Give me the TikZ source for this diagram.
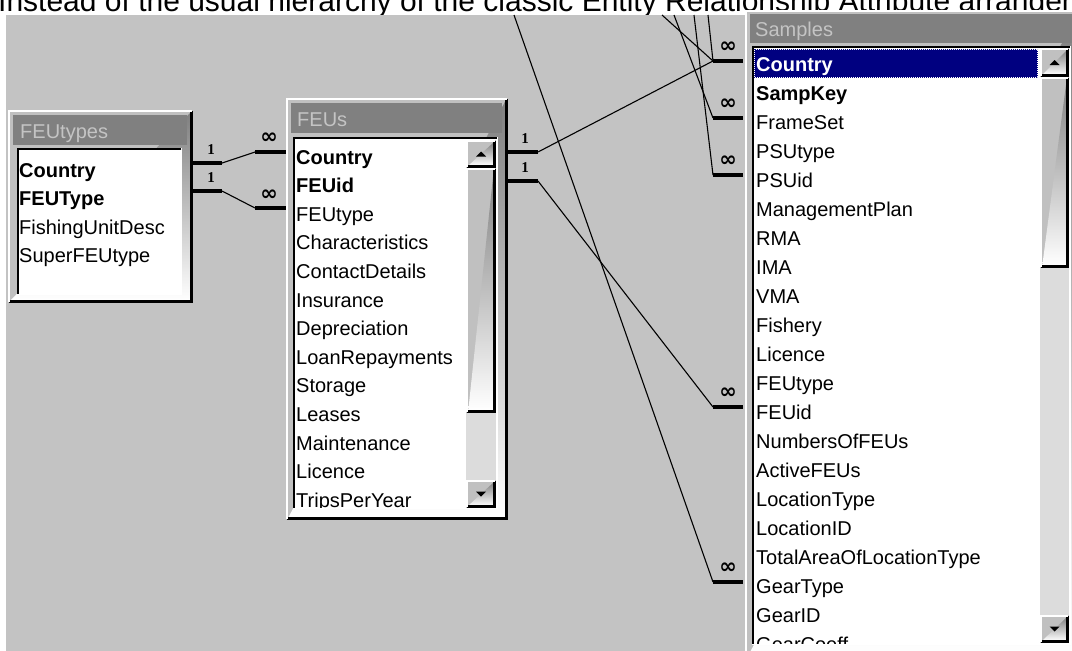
\documentclass[tikz,border=0pt]{standalone}
\usepackage{fontspec}
\setmainfont{Liberation Sans}
\newfontfamily\symfont{DejaVu Sans}
\newfontfamily\numfont{Liberation Serif}
\definecolor{desk}{HTML}{C3C3C3}
\definecolor{face}{HTML}{C0C0C0}
\definecolor{shade}{HTML}{808080}
\definecolor{titlebar}{HTML}{808080}
\definecolor{titletext}{HTML}{C4C4C4}
\definecolor{track}{HTML}{DCDCDC}
\definecolor{selnavy}{HTML}{000080}

% box node spanning (x1,y1)-(x2,y2), y grows downwards
\newcommand\boxnode[6]{\node[#1, minimum width={#5-#3}, minimum height={#6-#4}] (#2) at (#3,#4) {};}
% raised 3D edge around a named box
\newcommand\winbevel[1]{%
  \draw[white, line width=1.5pt] ([shift={(0.75,-0.75)}]#1.south west) -- ([shift={(0.75,0.75)}]#1.north west) -- ([shift={(-0.75,0.75)}]#1.north east);
  \draw[black, line width=1.5pt] ([shift={(0.75,-0.75)}]#1.south west) -- ([shift={(-0.75,-0.75)}]#1.south east) -- ([shift={(-0.75,0.75)}]#1.north east);
  \draw[shade, line width=1.5pt] ([shift={(2.25,-2.25)}]#1.south west) -- ([shift={(-2.25,-2.25)}]#1.south east) -- ([shift={(-2.25,2.25)}]#1.north east);}
% sunken 3D edge around a list area
\newcommand\listbevel[1]{%
  \draw[white, line width=1.5pt] ([shift={(0.75,-0.75)}]#1.south west) -- ([shift={(-0.75,-0.75)}]#1.south east) -- ([shift={(-0.75,0.75)}]#1.north east);
  \draw[black, line width=2pt] ([shift={(1,-1)}]#1.south west) -- ([shift={(1,1)}]#1.north west) -- ([shift={(-1,1)}]#1.north east);}
% scroll arrows
\newcommand\uparrowglyph[1]{\fill ([shift={(-5,2.5)}]#1.center) -- ([shift={(5,2.5)}]#1.center) -- ([shift={(0,-2.5)}]#1.center) -- cycle;}
\newcommand\downarrowglyph[1]{\fill ([shift={(-5,-2.5)}]#1.center) -- ([shift={(5,-2.5)}]#1.center) -- ([shift={(0,2.5)}]#1.center) -- cycle;}

\begin{document}
\begin{tikzpicture}[x=1pt,y=-1pt,
  field/.style={anchor=base west, inner sep=0pt, font=\fontsize{20}{24}\selectfont},
  keyfield/.style={field, font=\fontsize{20}{24}\selectfont\bfseries},
  wintitle/.style={anchor=base west, inner sep=0pt, text=titletext, font=\fontsize{20}{24}\selectfont},
  plate/.style={anchor=north west, inner sep=0pt, outer sep=0pt, fill=face},
  listbox/.style={anchor=north west, inner sep=0pt, outer sep=0pt, fill=white},
  titlebox/.style={anchor=north west, inner sep=0pt, outer sep=0pt, fill=titlebar},
  trackbox/.style={anchor=north west, inner sep=0pt, outer sep=0pt, fill=track},
  link/.style={line width=1.1pt},
  bar/.style={line width=4pt},
  one/.style={inner sep=0pt, font=\numfont\bfseries\fontsize{15}{15}\selectfont},
  many/.style={inner sep=0pt, font=\symfont\bfseries\fontsize{21}{21}\selectfont},
]
\useasboundingbox (0,0) rectangle (1072,651);
\clip (0,0) rectangle (1072,651);

% page background and heading line
\fill[white] (0,0) rectangle (1072,651);
\node[anchor=base west, inner sep=0pt, font=\fontsize{30}{32}\selectfont] (headline) at (-2,11.5)
  {Instead of the usual hierarchy of the classic Entity Relationship Attribute arrangement};
\fill[desk] (6,15) rectangle (1072,651);

% ---------- FEUtypes ----------
\boxnode{plate}{feutypes}{8}{110}{193}{303}
\winbevel{feutypes}
\boxnode{titlebox}{feutypes-title}{13}{115}{187}{145}
\node[wintitle] (feutypes-caption) at (20,138) {FEUtypes};
\boxnode{listbox}{feutypes-list}{17}{148}{182}{295}
\listbevel{feutypes-list}
\node[keyfield] (feutypes-0) at (19,177) {Country};
\node[keyfield] (feutypes-1) at (19,205.5) {FEUType};
\node[field] (feutypes-2) at (19,234) {FishingUnitDesc};
\node[field] (feutypes-3) at (19,262.5) {SuperFEUtype};

% ---------- FEUs ----------
\boxnode{plate}{feus}{286}{98}{508}{520}
\winbevel{feus}
\boxnode{titlebox}{feus-title}{291}{103}{502}{133}
\node[wintitle] (feus-caption) at (297,126) {FEUs};
\boxnode{listbox}{feus-list}{293}{137}{498}{509}
\begin{scope}
  \clip (295,139) rectangle (466,507);
  \node[keyfield] (feus-0) at (296,164) {Country};
  \node[keyfield] (feus-1) at (296,192.6) {FEUid};
  \foreach \fname [count=\i from 2] in {FEUtype,Characteristics,ContactDetails,Insurance,Depreciation,LoanRepayments,Storage,Leases,Maintenance,Licence,TripsPerYear}
    \node[field] (feus-\i) at (296,{164+28.6*\i}) {\fname};
\end{scope}
\boxnode{plate}{feus-up}{466}{140}{496}{168}
\winbevel{feus-up}
\uparrowglyph{feus-up}
\boxnode{plate}{feus-thumb}{466}{168}{496}{413}
\winbevel{feus-thumb}
\boxnode{trackbox}{feus-track}{466}{413}{496}{480}
\boxnode{plate}{feus-down}{466}{480}{496}{508}
\winbevel{feus-down}
\downarrowglyph{feus-down}
\listbevel{feus-list}

% ---------- Samples ----------
\boxnode{plate}{samples}{745}{10}{1080}{660}
\winbevel{samples}
\boxnode{titlebox}{samples-title}{750}{14}{1080}{43}
\node[wintitle] (samples-caption) at (755,36) {Samples};
\boxnode{listbox}{samples-list}{752}{46}{1071}{645}
\boxnode{plate}{samples-sel}{754}{49}{1038}{78}
\fill[selnavy] (samples-sel.north west) rectangle (samples-sel.south east);
\draw[white, line width=1pt, dash pattern=on 1pt off 1pt] ([shift={(0.5,0.5)}]samples-sel.north west) rectangle ([shift={(-0.5,-0.5)}]samples-sel.south east);
\begin{scope}
  \clip (754,48) rectangle (1040,643);
  \node[keyfield, text=white] (samples-0) at (756,71) {Country};
  \node[keyfield] (samples-1) at (756,100) {SampKey};
  \foreach \fname [count=\i from 2] in {FrameSet,PSUtype,PSUid,ManagementPlan,RMA,IMA,VMA,Fishery,Licence,FEUtype,FEUid,NumbersOfFEUs,ActiveFEUs,LocationType,LocationID,TotalAreaOfLocationType,GearType,GearID,GearCoeff}
    \node[field] (samples-\i) at (756,{71+29*\i}) {\fname};
\end{scope}
\boxnode{plate}{samples-up}{1040}{48}{1069}{77}
\winbevel{samples-up}
\uparrowglyph{samples-up}
\boxnode{plate}{samples-thumb}{1040}{77}{1069}{268}
\winbevel{samples-thumb}
\boxnode{trackbox}{samples-track}{1040}{268}{1069}{615}
\boxnode{plate}{samples-down}{1040}{615}{1069}{643}
\winbevel{samples-down}
\downarrowglyph{samples-down}
\listbevel{samples-list}

% ---------- relationship ends ----------
\coordinate (r1a) at (193,163); \coordinate (r1b) at (222,163);
\coordinate (r1c) at (255,152); \coordinate (r1d) at (286,152);
\coordinate (r2a) at (193,191); \coordinate (r2b) at (222,191);
\coordinate (r2c) at (255,208); \coordinate (r2d) at (286,208);
\coordinate (r3a) at (508,152); \coordinate (r3b) at (538,152);
\coordinate (r4a) at (508,181); \coordinate (r4b) at (538,181);
\coordinate (s0a) at (713,61);  \coordinate (s0b) at (743,61);
\coordinate (s1a) at (713,118); \coordinate (s1b) at (743,118);
\coordinate (s3a) at (713,175); \coordinate (s3b) at (743,175);
\coordinate (s12a) at (713,407); \coordinate (s12b) at (743,407);
\coordinate (s18a) at (713,582); \coordinate (s18b) at (743,582);
% joins coming from tables above
\coordinate (up1) at (514,15);
\coordinate (up2) at (662,15);
\coordinate (up3) at (674,15);
\coordinate (up4) at (694,15);
\coordinate (up5) at (708,15);

% connectors
\draw[link] (r1b) -- (r1c);
\draw[link] (r2b) -- (r2c);
\draw[link] (r3b) -- (s0a);
\draw[link] (r4b) -- (s12a);
\draw[link] (up1) -- (s18a);
\draw[link] (up2) -- (s0a);
\draw[link] (up3) -- (s1a);
\draw[link] (up4) -- (s3a);
\draw[link] (up5) -- (s0a);

% join bars
\foreach \p/\q in {r1a/r1b,r1c/r1d,r2a/r2b,r2c/r2d,r3a/r3b,r4a/r4b,s0a/s0b,s1a/s1b,s3a/s3b,s12a/s12b,s18a/s18b}
  \draw[bar] (\p) -- (\q);

% cardinality marks
\node[one] (m-r1a) at (211,150) {1};
\node[one] (m-r2a) at (211,178) {1};
\node[one] (m-r3a) at (525,139) {1};
\node[one] (m-r4a) at (525,168) {1};
\node[many] (m-r1d) at (269,138) {∞};
\node[many] (m-r2d) at (269,195) {∞};
\node[many] (m-s0) at (728,47) {∞};
\node[many] (m-s1) at (728,104) {∞};
\node[many] (m-s3) at (728,161) {∞};
\node[many] (m-s12) at (728,393) {∞};
\node[many] (m-s18) at (728,568) {∞};
\end{tikzpicture}
\end{document}
